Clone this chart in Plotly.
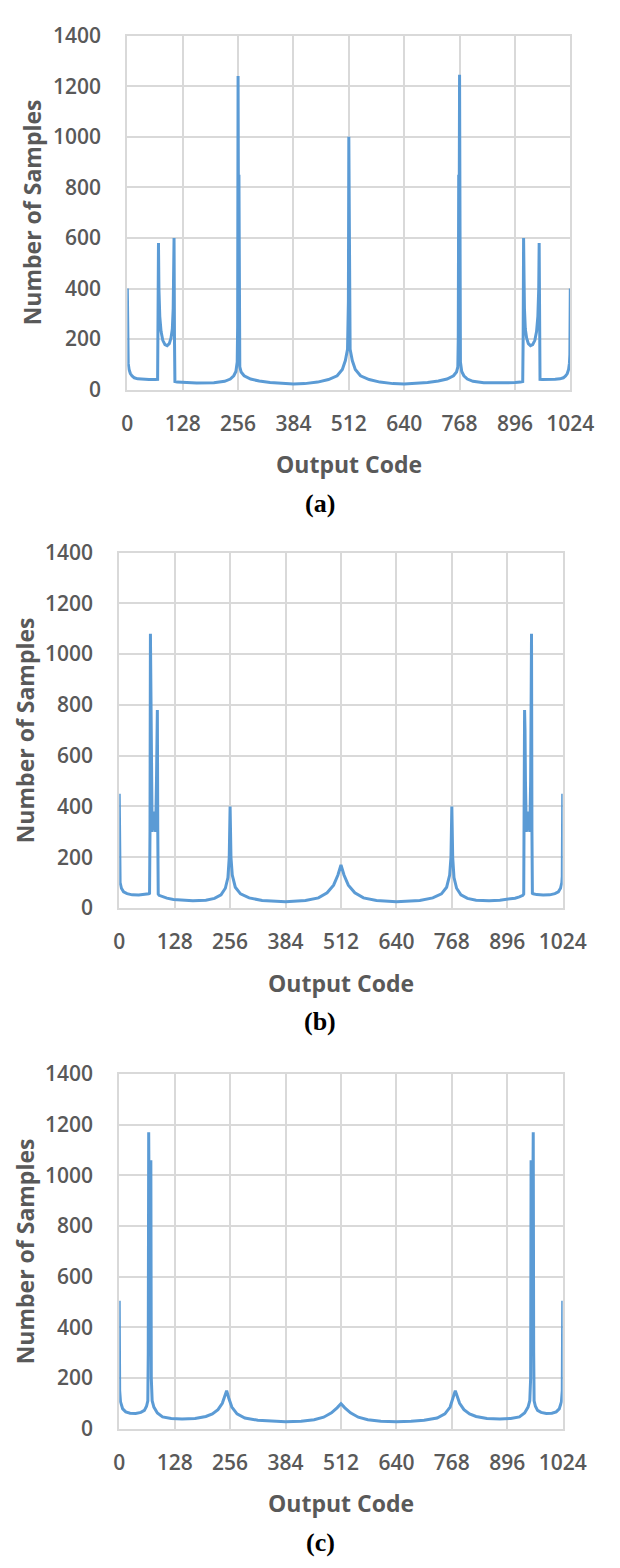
import plotly.graph_objects as go

# ---------------- data ----------------
x_a = [0, 1, 2, 4, 7, 11, 16, 24, 35, 50, 65, 70, 71, 72, 73, 75, 78, 82, 87, 92, 97, 101, 104, 106, 107, 108, 109, 110,
       115, 128, 160, 200, 225, 238, 246, 251, 254, 255, 256, 257, 258, 259, 260, 263, 270, 285, 305, 330, 360, 384,
       410, 440, 465, 485, 497, 504, 509, 511, 512, 513, 515, 520, 527, 539, 559, 584, 614, 640,
       664, 694, 719, 739, 754, 761, 764, 765, 766, 767, 768, 769, 770, 773, 778, 786, 799, 824, 864, 896,
       909, 914, 915, 916, 917, 918, 920, 923, 927, 932, 937, 942, 946, 949, 951, 952, 953, 954, 959, 974,
       989, 1000, 1008, 1013, 1017, 1020, 1022, 1023, 1024]
y_a = [400, 140, 105, 80, 64, 54, 47, 43, 41, 40, 40, 41, 300, 580, 400, 290, 230, 195, 178, 174, 182, 205, 240, 320, 450, 600, 200, 32,
       30, 28, 26, 27, 33, 42, 55, 72, 110, 250, 1240, 600, 850, 200, 90, 70, 55, 42, 34, 28, 24, 23,
       24, 30, 40, 55, 80, 115, 160, 350, 1000, 350, 160, 115, 80, 55, 40, 30, 24, 23,
       24, 28, 34, 42, 55, 70, 90, 200, 850, 600, 1245, 250, 110, 72, 55, 42, 33, 27, 26, 28,
       30, 32, 200, 600, 450, 320, 240, 205, 182, 174, 178, 195, 230, 290, 400, 580, 300, 41, 40, 40,
       41, 43, 47, 54, 64, 80, 105, 140, 400]

x_b = [0, 1, 2, 5, 10, 18, 30, 45, 60, 68, 70, 71, 72, 74, 76, 78, 80, 82, 84, 86, 87, 88, 89, 90, 92,
       100, 110, 125, 145, 170, 200, 220, 235, 245, 251, 254, 256, 258, 261, 268, 280, 300, 330, 384,
       430, 460, 480, 495, 505, 512, 519, 529, 544, 564, 594, 640,
       694, 724, 744, 756, 763, 766, 768, 770, 773, 779, 789, 804, 824, 854, 879, 899, 914, 924, 932, 934,
       935, 936, 937, 938, 940, 942, 944, 946, 948, 950, 952, 953, 954, 956, 964, 979, 994, 1006, 1014,
       1019, 1022, 1023, 1024]
y_b = [450, 125, 100, 78, 64, 57, 52, 51, 53, 56, 58, 300, 1080, 500, 300, 330, 380, 330, 300, 500, 700, 780, 300, 55, 50,
       44, 39, 34, 31, 29, 31, 38, 52, 78, 120, 200, 400, 200, 130, 82, 56, 40, 30, 25,
       30, 40, 60, 90, 130, 170, 130, 90, 60, 40, 30, 25,
       30, 40, 56, 82, 130, 200, 400, 200, 120, 78, 52, 38, 31, 29, 31, 34, 39, 44, 50, 55,
       300, 780, 700, 500, 300, 330, 380, 330, 300, 500, 1080, 300, 58, 56, 53, 51, 52, 57, 64,
       78, 100, 125, 450]

x_c = [0, 1, 3, 8, 15, 25, 38, 50, 58, 63, 66, 67, 68, 70, 72, 73, 74, 76, 80, 88, 100, 120, 145, 175,
       200, 215, 228, 238, 244, 248, 253, 260, 272, 290, 320, 350, 384, 420, 450, 472, 490, 503, 512,
       521, 534, 552, 574, 604, 640, 674, 704, 734, 752, 764, 771, 776, 780, 786, 796, 809, 824, 849,
       879, 904, 924, 936, 944, 948, 950, 951, 952, 954, 956, 957, 958, 961, 966, 974, 986, 999, 1009,
       1016, 1021, 1023, 1024]
y_c = [505, 150, 105, 78, 66, 61, 60, 64, 72, 88, 110, 300, 1170, 600, 900, 1060, 200, 110, 85, 62, 46, 40, 38, 40,
       48, 58, 75, 100, 130, 150, 120, 85, 58, 42, 33, 29, 27, 29, 35, 45, 62, 82, 98,
       82, 62, 45, 35, 29, 27, 29, 33, 42, 58, 85, 120, 150, 130, 100, 75, 58, 48, 40,
       38, 40, 46, 62, 85, 110, 200, 1060, 900, 600, 1170, 300, 110, 88, 72, 64, 60, 61, 66,
       78, 105, 150, 505]

x_ticks = [0, 128, 256, 384, 512, 640, 768, 896, 1024]
y_ticks = [0, 200, 400, 600, 800, 1000, 1200, 1400]
panel_labels = ["(a)", "(b)", "(c)"]
x_title = "Output Code"
y_title = "Number of Samples"

# ---------------- layout geometry (pixels) ----------------
W, H = 620, 1568
# left, right, top, bottom of each plot area in pixels
boxes = [(127.5, 593.0, 21.0, 381.5),
         (119.0, 585.0, 547.3, 909.3),
         (119.0, 585.0, 1078.3, 1439.3)]
ytitle_x = [27, 20, 20]
caption_x = 330

LINE = "#5B9BD5"
GRID = "#D9D9D9"
TXT = "#595959"
tick_font = dict(family="Open Sans", size=21, color=TXT, weight=600)
title_font = dict(family="Open Sans", size=23, color=TXT, weight=700)
cap_font = dict(family="Liberation Serif", size=26, color="black", weight=700)

fig = go.Figure()
series = [(x_a, y_a), (x_b, y_b), (x_c, y_c)]
annotations = []
layout = dict(width=W, height=H, margin=dict(l=0, r=0, t=0, b=0),
              paper_bgcolor="white", plot_bgcolor="white", showlegend=False)

for i, ((xs, ys), (l, r, t, b)) in enumerate(zip(series, boxes)):
    n = "" if i == 0 else str(i + 1)
    fig.add_trace(go.Scatter(x=xs, y=ys, mode="lines",
                             line=dict(color=LINE, width=3),
                             xaxis="x" + n, yaxis="y" + n, hoverinfo="skip"))
    layout["xaxis" + n] = dict(domain=[l / W, r / W], range=[0, 1024], anchor="y" + n,
                               tickmode="array", tickvals=x_ticks,
                               ticktext=[str(v) for v in x_ticks],
                               showgrid=True, gridcolor=GRID, gridwidth=2,
                               showline=True, linecolor=GRID, linewidth=2, mirror=True,
                               zeroline=False, ticks="", tickfont=tick_font,
                               ticklabelstandoff=14, fixedrange=True)
    layout["yaxis" + n] = dict(domain=[1 - b / H, 1 - t / H], range=[0, 1400], anchor="x" + n,
                               tickmode="array", tickvals=y_ticks,
                               showgrid=True, gridcolor=GRID, gridwidth=2,
                               showline=True, linecolor=GRID, linewidth=2, mirror=True,
                               zeroline=False, ticks="", tickfont=tick_font,
                               ticklabelstandoff=20, fixedrange=True)
    # axis titles
    annotations.append(dict(text=x_title, xref="paper", yref="paper",
                            x=((l + r) / 2) / W, y=1 - (b + 76) / H,
                            xanchor="center", yanchor="middle", showarrow=False,
                            font=title_font))
    annotations.append(dict(text=y_title, xref="paper", yref="paper",
                            x=ytitle_x[i] / W, y=1 - ((t + b) / 2) / H, textangle=-90,
                            xanchor="center", yanchor="middle", showarrow=False,
                            font=title_font))
    annotations.append(dict(text=panel_labels[i], xref="paper", yref="paper",
                            x=caption_x / W, y=1 - (b + 116) / H,
                            xanchor="center", yanchor="middle", showarrow=False,
                            font=cap_font))

layout["annotations"] = annotations
fig.update_layout(**layout)
fig.write_html("out.html")
